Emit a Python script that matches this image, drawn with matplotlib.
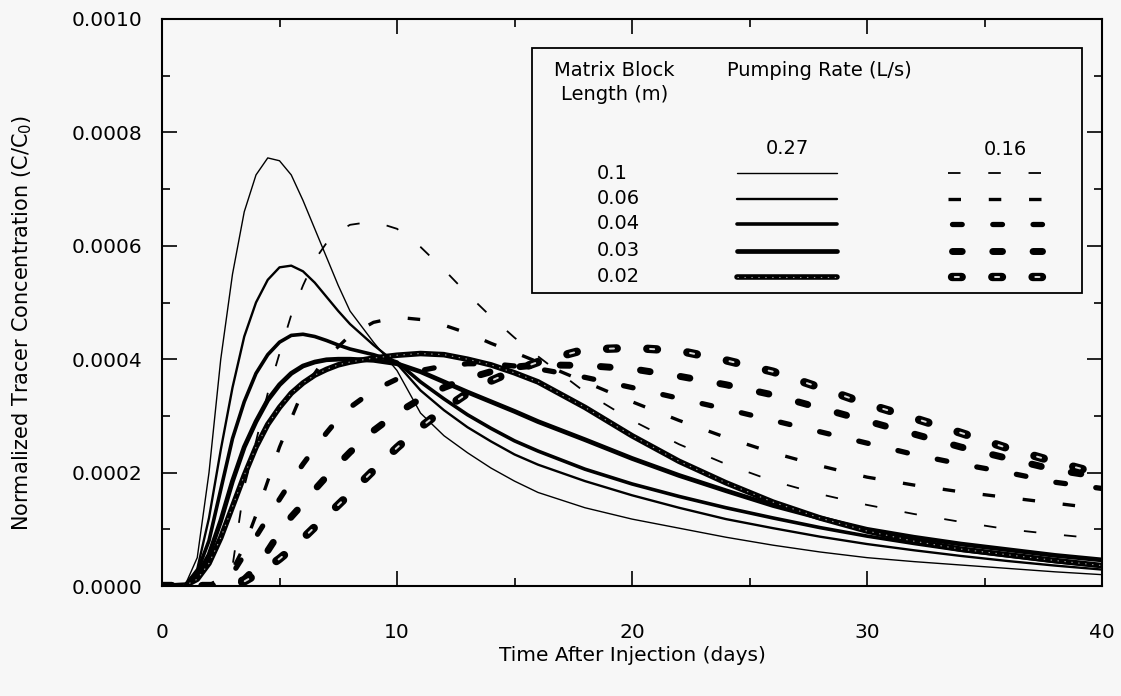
import matplotlib
matplotlib.use('Agg')
import matplotlib.pyplot as plt
from matplotlib.patches import Rectangle
from matplotlib.ticker import MultipleLocator, FormatStrFormatter

plt.rcParams['font.family'] = ['DejaVu Sans']
plt.rcParams['lines.scale_dashes'] = False

# time after injection (days)
days = [0, 1, 1.5, 2, 2.5, 3, 3.5, 4, 4.5, 5, 5.5, 6, 6.5, 7, 7.5, 8,
        9, 10, 11, 12, 13, 14, 15, 16, 18, 20, 22, 24, 26, 28, 30, 32, 34, 36, 38, 40]

block_lengths = ['0.1', '0.06', '0.04', '0.03', '0.02']
rates = ['0.27', '0.16']

# C/C0 x 1e4, pumping rate 0.27 L/s
q27 = [
    [0, 0.03, 0.5, 2.0, 4.0, 5.5, 6.6, 7.25, 7.55, 7.5, 7.25, 6.8, 6.3, 5.8, 5.3, 4.85,
     4.3, 3.8, 3.05, 2.65, 2.35, 2.08, 1.85, 1.65, 1.38, 1.18, 1.02, 0.86, 0.72, 0.6, 0.5, 0.43, 0.37, 0.31, 0.25, 0.2],
    [0, 0.03, 0.3, 1.2, 2.4, 3.5, 4.4, 5.0, 5.4, 5.62, 5.65, 5.55, 5.35, 5.1, 4.85, 4.62,
     4.25, 3.92, 3.45, 3.1, 2.8, 2.55, 2.32, 2.14, 1.85, 1.6, 1.38, 1.18, 1.02, 0.87, 0.74, 0.63, 0.53, 0.44, 0.36, 0.29],
    [0, 0.02, 0.25, 0.8, 1.7, 2.6, 3.25, 3.75, 4.08, 4.3, 4.42, 4.44, 4.4, 4.33, 4.25, 4.18,
     4.08, 3.95, 3.6, 3.3, 3.02, 2.78, 2.56, 2.38, 2.06, 1.8, 1.58, 1.38, 1.2, 1.03, 0.88, 0.75, 0.63, 0.53, 0.43, 0.35],
    [0, 0.02, 0.18, 0.55, 1.15, 1.85, 2.45, 2.9, 3.28, 3.55, 3.75, 3.88, 3.95, 3.99, 4.0, 4.0,
     3.98, 3.92, 3.78, 3.6, 3.42, 3.25, 3.08, 2.9, 2.58, 2.25, 1.95, 1.68, 1.42, 1.2, 1.0, 0.86, 0.74, 0.64, 0.54, 0.46],
    [0, 0.01, 0.12, 0.4, 0.85, 1.4, 1.95, 2.45, 2.85, 3.15, 3.4, 3.58, 3.72, 3.82, 3.9, 3.95,
     4.02, 4.07, 4.1, 4.08, 4.0, 3.9, 3.76, 3.6, 3.15, 2.65, 2.2, 1.82, 1.48, 1.2, 0.97, 0.79, 0.65, 0.55, 0.45, 0.36],
]

# C/C0 x 1e4, pumping rate 0.16 L/s
q16 = [
    [0, 0, 0, 0.03, 0.15, 0.35, 1.75, 2.55, 3.4, 4.1, 4.78, 5.3, 5.75, 6.05, 6.25, 6.37,
     6.43, 6.3, 5.98, 5.58, 5.15, 4.75, 4.38, 4.05, 3.42, 2.92, 2.5, 2.15, 1.85, 1.62, 1.43, 1.27, 1.13, 1.0, 0.91, 0.83],
    [0, 0, 0, 0.02, 0.1, 0.3, 0.7, 1.25, 1.85, 2.45, 2.95, 3.45, 3.75, 4.05, 4.22, 4.42,
     4.65, 4.74, 4.7, 4.6, 4.46, 4.28, 4.12, 3.95, 3.6, 3.25, 2.92, 2.62, 2.35, 2.12, 1.92, 1.78, 1.66, 1.56, 1.46, 1.36],
    [0, 0, 0, 0, 0.05, 0.22, 0.55, 0.87, 1.2, 1.53, 1.85, 2.15, 2.43, 2.7, 2.95, 3.15,
     3.45, 3.65, 3.8, 3.88, 3.92, 3.92, 3.88, 3.83, 3.68, 3.5, 3.31, 3.12, 2.92, 2.72, 2.52, 2.32, 2.15, 2.0, 1.83, 1.72],
    [0, 0, 0, 0, 0, 0.03, 0.12, 0.32, 0.62, 0.94, 1.22, 1.45, 1.7, 1.93, 2.15, 2.36,
     2.74, 3.05, 3.3, 3.5, 3.66, 3.78, 3.86, 3.9, 3.89, 3.83, 3.7, 3.55, 3.37, 3.14, 2.91, 2.68, 2.45, 2.25, 2.05, 1.92],
    [0, 0, 0, 0, 0, 0.02, 0.08, 0.2, 0.33, 0.48, 0.65, 0.84, 1.04, 1.23, 1.43, 1.63,
     2.04, 2.44, 2.8, 3.12, 3.4, 3.62, 3.8, 3.95, 4.17, 4.2, 4.15, 3.98, 3.78, 3.5, 3.21, 2.96, 2.7, 2.43, 2.19, 1.97],
]

bg = '#f7f7f7'
solid_lw = [1.0, 1.7, 2.6, 3.4, 4.0]
dash_lw = [1.3, 2.4, 3.8, 5.0, 6.0]
dash_on = [9, 9, 7, 7, 7]
dash_off = [20, 20, 22, 22, 22]


def draw_solid(ax, x, y, i, **kw):
    ax.plot(x, y, color='black', lw=solid_lw[i], solid_capstyle='round',
            solid_joinstyle='round', **kw)
    if i == 4:
        # stippled look of the widest line
        ax.plot(x, y, color='white', lw=0.8, alpha=0.6, linestyle=(0, (1, 4)), **kw)


def draw_dashed(ax, x, y, i, **kw):
    cap = 'butt' if i < 2 else 'round'
    ax.plot(x, y, color='black', lw=dash_lw[i], linestyle=(0, (dash_on[i], dash_off[i])),
            dash_capstyle=cap, dash_joinstyle='round', **kw)
    if i == 4:
        per = dash_on[i] + dash_off[i]
        ax.plot(x, y, color='white', lw=1.4, alpha=0.85, linestyle=(per - 2, (3, per - 3)),
                dash_capstyle='round', **kw)


fig = plt.figure(figsize=(11.21, 6.96), dpi=100, facecolor=bg)
ax = fig.add_axes([162 / 1121, 110 / 696, 940 / 1121, 567 / 696], facecolor=bg)

for i in range(5):
    draw_solid(ax, days, [v * 1e-4 for v in q27[i]], i)
    draw_dashed(ax, days, [v * 1e-4 for v in q16[i]], i)

ax.set_xlim(0, 40)
ax.set_ylim(0, 0.001)
ax.xaxis.set_major_locator(MultipleLocator(10))
ax.xaxis.set_minor_locator(MultipleLocator(5))
ax.yaxis.set_major_locator(MultipleLocator(0.0002))
ax.yaxis.set_minor_locator(MultipleLocator(0.0001))
ax.yaxis.set_major_formatter(FormatStrFormatter('%.4f'))
ax.tick_params(which='both', direction='in', top=True, right=True, width=1.2, labelsize=14.5)
ax.tick_params(which='major', length=11)
ax.tick_params(which='minor', length=6)
ax.tick_params(axis='x', pad=27)
ax.tick_params(axis='y', pad=14)
for s in ax.spines.values():
    s.set_linewidth(1.5)

ax.set_xlabel('Time After Injection (days)', fontsize=14.5)
ax.set_ylabel('Normalized Tracer Concentration (C/C$_0$)', fontsize=15)
ax.xaxis.set_label_coords(0.5, -0.122)
ax.yaxis.set_label_coords(-0.149, 0.464)
ax.xaxis.label.set_va('center')
ax.yaxis.label.set_va('center')

# legend box
ax.add_patch(Rectangle((0.394, 0.517), 0.585, 0.432, transform=ax.transAxes,
                       facecolor=bg, edgecolor='black', lw=1.3, zorder=5))
ax.text(0.481, 0.888, 'Matrix Block\nLength (m)', transform=ax.transAxes, ha='center',
        va='center', multialignment='center', fontsize=14, zorder=6, linespacing=1.3)
ax.text(0.601, 0.910, 'Pumping Rate (L/s)', transform=ax.transAxes, ha='left',
        va='center', fontsize=14, zorder=6)
ax.text(0.665, 0.772, rates[0], transform=ax.transAxes, ha='center', va='center',
        fontsize=14, zorder=6)
ax.text(0.897, 0.769, rates[1], transform=ax.transAxes, ha='center', va='center',
        fontsize=14, zorder=6)

row_y = [0.728, 0.683, 0.639, 0.591, 0.545]
for i, lab in enumerate(block_lengths):
    yy = row_y[i]
    ax.text(0.463, yy, lab, transform=ax.transAxes, ha='left', va='center',
            fontsize=14, zorder=6)
    draw_solid(ax, [0.612, 0.718], [yy, yy], i, transform=ax.transAxes, zorder=6, clip_on=False)
    span = (3 * dash_on[i] + 2 * dash_off[i]) * 100 / 72 / 940
    x0 = 0.836 + (0.0 if i < 2 else 0.004)
    draw_dashed(ax, [x0, x0 + span], [yy, yy], i, transform=ax.transAxes, zorder=6, clip_on=False)

fig.savefig('out.png', dpi=100, facecolor=bg)
